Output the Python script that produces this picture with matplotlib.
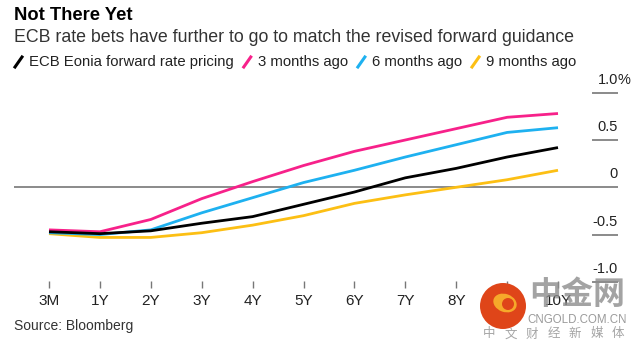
import matplotlib
matplotlib.use("Agg")
import matplotlib.pyplot as plt
from matplotlib.lines import Line2D
from matplotlib.patches import Circle, Ellipse
from matplotlib.transforms import IdentityTransform

plt.rcParams['font.family'] = ['Liberation Sans', 'DejaVu Sans']

# data
tenors = ['3M', '1Y', '2Y', '3Y', '4Y', '5Y', '6Y', '7Y', '8Y', '9Y', '10Y']
eonia_now = [-0.47, -0.49, -0.46, -0.38, -0.31, -0.18, -0.05, 0.10, 0.20, 0.32, 0.42]
three_months = [-0.45, -0.47, -0.34, -0.12, 0.06, 0.23, 0.38, 0.50, 0.62, 0.74, 0.78]
six_months = [-0.48, -0.50, -0.45, -0.27, -0.11, 0.05, 0.18, 0.32, 0.45, 0.58, 0.63]
nine_months = [-0.49, -0.53, -0.53, -0.48, -0.40, -0.30, -0.17, -0.08, 0.00, 0.08, 0.18]
y_ticks = [1.0, 0.5, 0, -0.5, -1.0]
y_labels = ['1.0', '0.5', '0', '-0.5', '-1.0']

series = [
    ('ECB Eonia forward rate pricing', eonia_now, '#000000'),
    ('3 months ago', three_months, '#f7218a'),
    ('6 months ago', six_months, '#1eb1f0'),
    ('9 months ago', nine_months, '#fcbf14'),
]

W, H = 637, 352
fig = plt.figure(figsize=(W / 100, H / 100), dpi=100)

# axes placed in pixel terms
left, right, top, bottom = 14, 618, 70, 288
ax = fig.add_axes([left / W, 1 - bottom / H, (right - left) / W, (bottom - top) / H])

x = list(range(len(tenors)))
for name, vals, col in series[::-1]:
    ax.plot(x, vals, color=col, lw=2.0, solid_capstyle='butt')

px_per_x = (558 - 49) / 10
ax.set_xlim(-(49 - left) / px_per_x, (right - 49) / px_per_x)
px_per_y = 94.6
ax.set_ylim(-(bottom - 187.3) / px_per_y, (187.3 - top) / px_per_y)

for s in ax.spines.values():
    s.set_visible(False)
ax.set_yticks([])
ax.set_xticks(x)
ax.set_xticklabels(tenors, fontsize=11, color='#222222')
ax.tick_params(axis='x', direction='in', length=5, width=1, color='#777777', pad=4)

ax.axhline(0, color='#8a8a8a', lw=1.4, zorder=0)
tick_start = (593 - left) / (right - left)
for v, lab in zip(y_ticks, y_labels):
    if v != 0:
        ax.axhline(v, xmin=tick_start, xmax=1, color='#8a8a8a', lw=1.4)
    ax.annotate(lab, xy=(1, v), xycoords=('axes fraction', 'data'),
                xytext=(0, 13), textcoords='offset pixels',
                ha='right', va='center', fontsize=10.5, color='#222222')
ax.annotate('%', xy=(1, 1.0), xycoords=('axes fraction', 'data'),
            xytext=(-1, 13), textcoords='offset pixels',
            ha='left', va='center', fontsize=10.5, color='#222222')

# titles
fig.text(14 / W, 1 - 15 / H, 'Not There Yet', fontsize=13.2, fontweight='bold',
         va='center', ha='left')
fig.text(14 / W, 1 - 37 / H, 'ECB rate bets have further to go to match the revised forward guidance',
         fontsize=12.75, color='#333333', va='center', ha='left')
fig.text(14 / W, 1 - 326 / H, 'Source: Bloomberg', fontsize=10, color='#333333',
         va='center', ha='left')

# legend built by hand
fig.canvas.draw()
renderer = fig.canvas.get_renderer()
cx = 15
ly = 62
for name, vals, col in series:
    fig.add_artist(Line2D([cx / W, (cx + 7) / W], [1 - (ly + 5) / H, 1 - (ly - 5) / H],
                          color=col, lw=2.2, transform=fig.transFigure))
    t = fig.text((cx + 14) / W, 1 - ly / H, name, fontsize=10.75, color='#222222',
                 va='center', ha='left')
    bb = t.get_window_extent(renderer=renderer)
    cx = bb.x1 + 10

# watermark
ident = IdentityTransform()
fig.add_artist(Circle((503, H - 306), 23, transform=ident,
                      facecolor='#df4519', edgecolor='none', zorder=5))
fig.add_artist(Ellipse((505, H - 303), 24, 18, angle=-20, transform=ident,
                       facecolor='#f6a92a', edgecolor='none', zorder=6))
fig.add_artist(Circle((508, H - 304), 6, transform=ident,
                      facecolor='#df4519', edgecolor='none', zorder=7))
fig.text(577 / W, 1 - 295 / H, '中金网', fontsize=23, fontweight='bold', color='#8c8c8c',
         alpha=0.8, ha='center', va='center', family=['Noto Sans CJK SC'], zorder=8)
fig.text(577 / W, 1 - 320 / H, 'CNGOLD.COM.CN', fontsize=8.3, color='#9a9a9a',
         ha='center', va='center', zorder=8)
for i, ch in enumerate('中文财经新媒体'):
    fig.text((489 + i * 21.5) / W, 1 - 334 / H, ch, fontsize=9, color='#a5a5a5',
             ha='center', va='center', family=['Noto Sans CJK SC'], zorder=8)

fig.savefig('out.png', dpi=100)
